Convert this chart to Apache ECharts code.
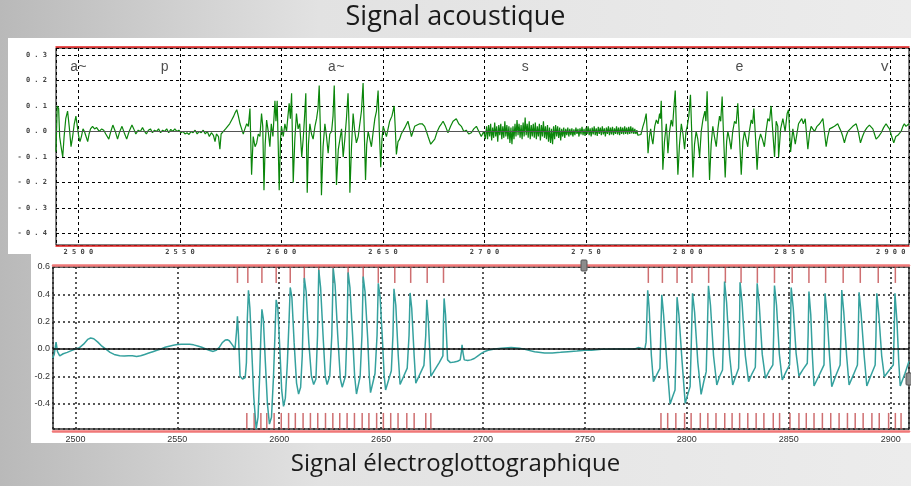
<!DOCTYPE html>
<html>
<head>
<meta charset="utf-8">
<script src="https://cdn.jsdelivr.net/npm/echarts@6/dist/echarts.min.js"></script>
<style>
html, body { margin: 0; padding: 0; }
#main { width: 911px; height: 486px; }
</style>
</head>
<body>
<div id="main"></div>
<script>
// signal acoustique : [ms, amplitude]
var acAvant = [
  [2489.0,-0.08],[2489.6,0.10],[2490.3,0.09],[2490.8,-0.02],[2491.5,-0.06],[2492.3,-0.10],[2493.0,-0.02],[2493.8,0.05],
  [2494.7,0.08],[2495.5,0.02],[2496.4,-0.06],[2497.2,-0.02],[2498.0,0.03],[2498.8,0.06],[2499.5,0.02],[2500.2,-0.02],
  [2500.8,-0.04],[2501.5,-0.02],[2502.3,0.01],[2503.0,0.00],[2503.8,-0.02],[2504.6,-0.04],[2505.3,-0.01],[2506.0,0.01],
  [2507.0,0.02],[2508.0,0.01],[2509.0,0.015],[2510.3,0.00],[2511.5,0.01],[2512.5,0.005],[2513.5,-0.01],[2515.0,-0.03],
  [2516.0,0.00],[2517.0,0.025],[2518.2,0.00],[2519.3,-0.03],[2520.4,0.00],[2521.5,0.02],[2522.6,-0.005],[2523.8,-0.03],
  [2525.0,0.00],[2526.4,0.025],[2527.3,0.01],[2528.3,-0.01],[2529.5,0.005],[2530.5,0.00],[2531.6,0.015],[2532.6,0.00],
  [2533.5,-0.01],[2534.5,0.005],[2535.5,0.01],[2536.5,-0.005],[2537.5,0.005],[2538.5,0.00],[2539.5,0.01],[2540.5,-0.005],
  [2541.5,0.005],[2542.5,0.00],[2543.5,0.01],[2544.5,-0.005],[2545.5,0.008],[2546.5,0.00],[2547.5,0.01],[2548.5,0.00],
  [2549.5,0.005],[2550.5,-0.005],[2551.5,0.00],[2552.5,-0.01],[2553.5,-0.005],[2554.5,-0.012],[2555.5,0.00],[2556.5,-0.005],
  [2557.5,0.005],[2558.5,-0.01],[2559.5,0.00],[2560.5,-0.005],[2561.5,0.005],[2562.5,-0.01],[2563.5,0.00],[2564.5,-0.02],
  [2565.5,-0.005],[2566.5,-0.015],[2567.3,-0.04],[2568.0,-0.01],[2569.0,-0.02],[2569.7,-0.07],[2570.3,-0.01],[2571.4,0.00],
  [2572.5,0.01],[2573.5,0.02],[2574.5,0.03],[2575.5,0.045],[2576.5,0.06],[2577.3,0.075],[2578.0,0.085],[2578.8,0.06],
  [2579.6,0.03],[2580.4,0.01],[2581.2,-0.01],[2582.0,0.01],[2582.9,0.03],[2583.7,0.02],[2584.5,0.09],[2585.3,-0.17],
  [2586.1,-0.02],[2587.0,-0.06],[2587.8,-0.045],[2588.6,-0.01],[2589.4,-0.02],[2590.2,0.07],[2590.8,0.02],[2591.4,-0.23],
  [2592.0,-0.05],[2592.7,0.045],[2593.5,0.00],[2594.3,-0.06],[2595.0,0.03],[2595.8,-0.02],[2596.8,0.12],[2597.3,0.04],
  [2597.9,0.12],[2598.4,-0.05],[2598.9,-0.23],[2599.5,-0.04],[2600.0,0.02],[2600.9,-0.02],[2601.7,0.03],[2602.5,0.00],
  [2603.2,0.06],[2603.8,0.11],[2604.4,0.05],[2605.0,0.15],[2605.8,-0.20],[2606.6,-0.03],[2607.4,0.07],[2608.2,0.01],
  [2609.0,0.03],[2610.0,-0.10],[2610.8,-0.02],[2611.4,0.06],[2612.0,0.15],[2612.7,-0.24],[2613.3,-0.05],[2614.0,0.03],
  [2614.8,-0.01],[2615.6,-0.03],[2616.5,0.02],[2617.3,0.05],[2618.0,0.09],[2618.6,0.18],[2619.2,0.00],[2619.7,-0.25],
  [2620.5,-0.06],[2621.4,0.03],[2622.2,-0.02],[2623.0,-0.085],[2623.8,-0.01],[2624.7,0.00],[2625.4,0.06],[2626.0,0.18],
  [2626.6,-0.02],[2627.1,-0.21],[2628.0,-0.07],[2628.8,-0.03],[2629.6,0.01],[2630.4,-0.10],[2631.2,-0.03],[2632.0,0.05],
  [2632.8,0.15],[2633.3,0.02],[2633.7,-0.24],[2634.5,-0.06],[2635.3,0.07],[2636.1,0.00],[2636.9,-0.045],[2637.8,-0.02],
  [2638.6,0.03],[2639.4,0.08],[2640.2,0.19],[2640.8,0.00],[2641.4,-0.19],[2642.0,-0.05],[2642.7,0.00],[2643.5,-0.03],
  [2644.3,-0.06],[2645.2,0.00],[2646.0,0.05],[2646.8,0.08],[2647.6,0.16],[2648.2,0.00],[2648.9,-0.14],[2649.5,-0.03],
  [2650.1,0.02],[2650.9,0.00],[2651.7,-0.02],[2652.5,0.01],[2653.3,0.04],[2654.4,0.06],[2655.5,0.10],[2656.0,0.02],
  [2656.6,-0.09],[2657.4,-0.04],[2658.2,-0.03],[2659.0,-0.01],[2659.9,-0.005],[2661.1,0.02],[2662.3,0.04],[2663.2,0.01],
  [2664.0,-0.02],[2664.8,0.00],[2665.6,0.02],[2666.8,0.025],[2668.1,0.03],[2669.3,0.03],[2670.5,0.02],[2671.4,0.00],
  [2672.2,-0.02],[2673.5,-0.05],[2674.5,-0.04],[2675.5,-0.03],[2676.7,0.00],[2677.9,0.02],[2678.8,0.03],[2679.6,0.04],
  [2680.8,0.02],[2682.0,-0.005],[2683.3,0.02],[2684.5,0.04],[2685.3,0.045],[2686.1,0.05],[2687.3,0.03],[2688.6,0.02],
  [2689.8,0.00],[2691.0,0.005],[2692.2,-0.01],[2693.5,-0.005],[2694.7,0.01],[2696.0,0.02],[2697.2,0.00],[2698.4,-0.02],
  [2699.6,0.00],[2700.4,-0.03]
];
// bruit du [s] : une valeur toutes les 0,5 ms a partir de 2701
var sDebut = 2701, sPas = 0.5;
var sBruit = [
  0.02,-0.03,0.025,-0.02,0.03,-0.035,0.015,-0.025,0.035,-0.02,
  0.02,-0.04,0.025,-0.015,0.03,-0.03,0.02,-0.025,0.04,-0.02,
  0.025,-0.03,0.02,-0.045,0.015,-0.05,0.02,-0.03,0.03,-0.02,
  0.045,-0.015,0.03,-0.025,0.025,-0.03,0.035,-0.02,0.055,-0.015,
  0.03,-0.025,0.04,-0.03,0.025,-0.02,0.03,-0.025,0.035,-0.03,
  0.02,-0.02,0.03,-0.035,0.025,-0.02,0.04,-0.025,0.02,-0.03,
  0.025,-0.04,0.015,-0.045,0.01,-0.05,0.02,-0.03,0.025,-0.02,
  0.02,-0.025,0.015,-0.035,0.01,-0.02,0.015,-0.025,0.01,-0.015,
  0.015,-0.02,0.01,-0.015,0.012,-0.02,0.008,-0.015,0.015,-0.01,
  0.01,-0.02,0.012,-0.012,0.018,-0.015,0.01,-0.018,0.015,-0.01,
  0.02,-0.015,0.012,-0.02,0.015,-0.012,0.02,-0.015,0.012,-0.018,
  0.018,-0.01,0.015,-0.015,0.02,-0.012,0.012,-0.02,0.015,-0.01,
  0.02,-0.015,0.015,-0.012,0.018,-0.015,0.012,-0.01,0.02,-0.012,
  0.015,-0.015,0.018,-0.01,0.015,-0.012,0.02,-0.01,0.015,-0.012,
  0.018,-0.01,0.02,-0.008,0.015,-0.01,0.01,-0.01,0.005,-0.015,
  -0.01
];
var acApres = [
  [2777.0,-0.012],[2778.0,0.02],[2778.8,0.04],[2779.6,0.07],[2780.1,0.00],[2780.5,-0.085],[2781.2,-0.02],[2781.8,0.01],
  [2782.4,-0.03],[2782.9,-0.05],[2783.8,0.02],[2784.6,0.045],[2785.4,0.03],[2786.2,0.07],[2786.6,0.05],[2787.0,0.12],
  [2787.4,0.00],[2787.8,-0.15],[2788.6,-0.04],[2789.5,0.03],[2789.9,-0.02],[2790.3,-0.085],[2791.1,0.00],[2791.9,0.045],
  [2792.6,0.02],[2793.2,0.09],[2793.9,0.16],[2794.5,0.00],[2795.2,-0.17],[2796.0,-0.05],[2796.9,0.03],[2797.7,-0.01],
  [2798.5,-0.07],[2799.2,0.00],[2799.8,0.02],[2800.6,0.06],[2801.4,0.144],[2802.0,0.00],[2802.6,-0.18],[2803.4,-0.05],
  [2804.2,0.00],[2805.0,-0.03],[2805.9,-0.10],[2806.7,0.00],[2807.5,0.045],[2808.5,0.08],[2809.0,0.04],[2809.6,0.157],
  [2810.2,-0.02],[2810.8,-0.19],[2811.6,-0.05],[2812.4,0.02],[2813.2,-0.02],[2814.1,-0.06],[2814.9,0.01],[2815.7,0.06],
  [2816.3,0.04],[2817.0,0.137],[2817.7,-0.02],[2818.5,-0.18],[2819.2,-0.04],[2819.8,0.00],[2820.6,-0.03],[2821.4,-0.07],
  [2822.2,0.00],[2823.1,0.04],[2823.9,0.03],[2824.7,0.11],[2825.5,-0.02],[2826.4,-0.17],[2827.2,-0.04],[2828.0,0.00],
  [2828.8,-0.03],[2829.6,-0.06],[2830.4,0.00],[2831.3,0.045],[2832.0,0.03],[2832.6,0.09],[2833.4,-0.02],[2834.2,-0.15],
  [2835.0,-0.04],[2835.9,-0.01],[2836.8,-0.03],[2837.8,-0.06],[2838.6,0.00],[2839.5,0.05],[2840.3,0.04],[2841.1,0.10],
  [2842.0,-0.01],[2842.8,-0.10],[2843.6,0.04],[2844.4,0.02],[2844.8,-0.10],[2845.8,0.01],[2846.9,0.05],[2848.0,0.00],
  [2849.0,0.07],[2849.7,0.085],[2850.7,-0.08],[2851.8,0.01],[2853.0,-0.05],[2854.6,0.03],[2856.2,0.05],[2857.0,0.03],
  [2857.9,0.05],[2859.2,-0.07],[2860.0,-0.01],[2860.8,0.02],[2861.6,0.01],[2862.5,0.00],[2863.7,0.02],[2865.0,0.03],
  [2865.8,0.04],[2866.6,0.05],[2868.2,-0.06],[2869.0,-0.02],[2869.9,0.01],[2871.1,0.015],[2872.3,0.02],[2873.1,0.025],
  [2873.9,0.03],[2874.7,0.015],[2875.6,0.00],[2876.4,-0.02],[2877.2,-0.045],[2878.0,-0.02],[2878.9,0.00],[2880.1,0.01],
  [2881.3,0.02],[2882.2,0.025],[2883.0,0.03],[2884.0,0.00],[2885.1,-0.045],[2886.1,-0.02],[2887.1,0.00],[2888.3,0.015],
  [2889.5,0.025],[2890.3,0.02],[2891.2,0.01],[2892.0,-0.01],[2892.8,-0.03],[2894.0,-0.02],[2895.3,-0.005],[2896.5,0.015],
  [2897.7,0.03],[2898.5,0.02],[2899.4,0.01],[2900.5,-0.02],[2901.5,-0.045],[2902.5,-0.02],[2903.5,-0.015],[2904.3,-0.01],
  [2905.1,0.00],[2906.0,0.02],[2906.7,0.03],[2907.5,0.02],[2908.4,0.025],[2909.0,0.03]
];

// segmentation phonetique
var phonemes = ['a~', 'p', 'a~', 's', 'e', 'v'];
var phonemeT = [2500, 2542.5, 2627, 2720, 2825.5, 2897];

// signal electroglottographique : [ms, valeur]
var egg = [
  [2488.8,-0.068],[2489.6,-0.04],[2490.5,0.05],[2491.2,-0.02],[2492.3,-0.05],[2494,-0.035],[2496,-0.025],[2498,-0.012],
  [2500,0.0],[2502,0.01],[2504,0.035],[2506,0.07],[2507.5,0.08],[2509,0.075],[2511,0.05],[2513,0.02],[2514.8,0.0],
  [2517,-0.025],[2519,-0.04],[2521.7,-0.05],[2524,-0.052],[2526,-0.05],[2528,-0.05],[2530,-0.055],[2532,-0.05],
  [2534,-0.04],[2536,-0.03],[2538,-0.02],[2540,-0.01],[2542,0.0],[2544,0.012],[2546,0.02],[2548,0.027],[2550,0.032],
  [2552,0.035],[2554,0.035],[2556,0.034],[2558,0.03],[2560,0.022],[2562,0.012],[2564,0.0],[2566,-0.012],[2567.6,-0.018],
  [2569,-0.01],[2570.5,0.01],[2572,0.045],[2573.5,0.065],[2574.5,0.068],[2575.5,0.06],[2577,0.03],[2578.3,0.0],
  [2579.0,0.12],[2579.5,0.24],[2580.0,0.1],[2580.8,-0.2],[2582.0,-0.22],[2583.3,-0.21],[2583.9,-0.1],[2584.3,0.2],
  [2584.9,0.43],[2585.6,0.3],[2586.5,0.0],[2587.5,-0.35],[2588.7,-0.586],[2589.6,-0.5],[2590.4,-0.2],[2591.0,0.1],
  [2591.5,0.29],[2592.2,0.22],[2593.2,-0.1],[2594.2,-0.4],[2595.2,-0.55],[2596.2,-0.5],[2597.2,-0.2],[2597.9,0.1],
  [2598.5,0.36],[2599.3,0.3],[2600.3,0.0],[2601.2,-0.3],[2602.1,-0.42],[2603.0,-0.36],[2604.0,-0.1],[2604.8,0.2],
  [2605.4,0.45],[2606.2,0.38],[2607.3,0.05],[2608.5,-0.25],[2609.5,-0.33],[2610.5,-0.28],[2611.3,-0.05],[2611.8,0.25],
  [2612.3,0.52],[2613.2,0.42],[2614.5,0.05],[2615.8,-0.2],[2616.9,-0.26],[2618.0,-0.22],[2618.8,0.1],[2619.4,0.58],
  [2620.3,0.45],[2621.5,0.1],[2622.6,-0.2],[2623.5,-0.26],[2624.8,-0.2],[2625.8,0.1],[2626.5,0.59],[2627.4,0.47],
  [2628.7,0.1],[2630.0,-0.22],[2630.9,-0.28],[2632.5,-0.2],[2633.2,0.1],[2633.8,0.56],[2634.7,0.45],[2636.0,0.1],
  [2637.0,-0.2],[2637.9,-0.33],[2639.7,-0.2],[2640.6,0.1],[2641.2,0.53],[2642.1,0.42],[2643.4,0.08],[2644.2,-0.2],
  [2644.8,-0.32],[2647.0,-0.18],[2648.0,0.1],[2648.6,0.48],[2649.5,0.38],[2650.7,0.05],[2651.5,-0.2],[2652.2,-0.30],
  [2655.0,-0.16],[2655.8,0.1],[2656.3,0.44],[2657.2,0.32],[2658.4,-0.05],[2659.3,-0.26],[2662.8,-0.14],[2663.7,0.1],
  [2664.2,0.41],[2665.0,0.3],[2666.2,-0.05],[2667.0,-0.25],[2671.0,-0.12],[2671.9,0.1],[2672.4,0.36],[2673.2,0.2],
  [2674.4,-0.2],[2676.0,-0.16],[2678.5,-0.1],[2680.3,-0.05],[2680.6,0.2],[2680.9,0.37],[2681.6,0.25],[2682.6,-0.08],
  [2684.0,-0.1],[2685.9,-0.095],[2687.5,-0.09],[2688.8,-0.08],[2689.4,-0.02],[2689.7,0.03],[2690.2,-0.03],[2690.8,-0.08],
  [2692.5,-0.085],[2694.0,-0.08],[2695.7,-0.07],[2697.5,-0.05],[2699.0,-0.035],[2700.6,-0.02],[2702.5,-0.01],[2705.6,0.0],
  [2709.0,0.005],[2713.8,0.01],[2718,0.005],[2721,-0.005],[2725.3,-0.02],[2730.2,-0.03],[2734,-0.03],[2738,-0.025],
  [2741.7,-0.02],[2746,-0.015],[2750,-0.01],[2753.2,-0.01],[2758.1,-0.003],[2765,0.0],[2774.5,0.0],[2776.1,0.01],
  [2777.5,0.005],[2779.4,0.0],
  [2780.0,0.05],[2780.8,0.43],[2781.5,0.3],[2782.6,-0.05],[2783.6,-0.24],[2785.2,-0.19],[2786.8,-0.142],[2787.2,0.1],
  [2787.7,0.396],[2788.6,0.25],[2790.2,-0.1],[2791.8,-0.403],[2793.0,-0.35],[2794.2,-0.30],[2794.7,0.0],[2795.2,0.379],
  [2796.1,0.25],[2797.7,-0.1],[2799.2,-0.398],[2800.5,-0.33],[2801.6,-0.276],[2802.2,0.05],[2802.8,0.408],[2803.8,0.27],
  [2805.4,-0.1],[2807.0,-0.332],[2808.3,-0.24],[2809.5,-0.166],[2810.0,0.1],[2810.6,0.462],[2811.6,0.32],[2813.1,-0.05],
  [2814.7,-0.264],[2816.1,-0.2],[2817.5,-0.154],[2818.0,0.1],[2818.5,0.493],[2819.5,0.34],[2821.0,-0.05],[2822.5,-0.264],
  [2824.0,-0.2],[2825.4,-0.142],[2825.8,0.1],[2826.1,0.488],[2827.1,0.34],[2828.7,-0.05],[2830.3,-0.239],[2832.0,-0.18],
  [2833.6,-0.134],[2834.0,0.1],[2834.5,0.481],[2835.5,0.33],[2837.0,-0.04],[2838.6,-0.215],[2840.4,-0.16],[2842.2,-0.117],
  [2842.6,0.1],[2843.0,0.464],[2844.0,0.32],[2845.4,-0.04],[2846.8,-0.227],[2848.6,-0.17],[2850.4,-0.117],[2850.8,0.1],
  [2851.2,0.449],[2852.2,0.3],[2853.6,-0.03],[2855.0,-0.198],[2857.0,-0.15],[2859.1,-0.105],[2859.5,0.1],[2859.9,0.42],
  [2860.8,0.25],[2861.6,-0.05],[2862.4,-0.271],[2865.0,-0.19],[2867.3,-0.117],[2867.5,0.1],[2867.8,0.408],[2868.8,0.25],
  [2870.0,-0.05],[2871.1,-0.276],[2873.2,-0.19],[2875.2,-0.117],[2875.6,0.1],[2876.0,0.432],[2877.0,0.27],[2878.4,-0.05],
  [2879.6,-0.264],[2881.7,-0.19],[2883.7,-0.117],[2884.1,0.1],[2884.5,0.415],[2885.5,0.26],[2887.0,-0.05],[2888.3,-0.271],
  [2890.4,-0.19],[2892.4,-0.117],[2892.8,0.1],[2893.2,0.408],[2894.2,0.25],[2895.6,-0.05],[2896.9,-0.203],[2899.1,-0.16],
  [2901.3,-0.117],[2901.7,0.1],[2902.1,0.408],[2903.1,0.2],[2904.0,-0.1],[2904.7,-0.271],[2907,-0.18],[2909,-0.09]
];

// marques d'instants glottiques (haut et bas du trace EGG)
var marquesHaut = [2579.5,2584.6,2591.5,2598.5,2605.4,2612.3,2619.4,2626.5,2633.8,2641.2,2648.6,2656.7,2664.5,2672.6,2680.6,
  2781.1,2788.0,2795.2,2802.5,2810.7,2818.9,2826.6,2834.6,2843.0,2851.7,2859.9,2868.1,2876.7,2885.1,2893.9,2902.3];
var marquesBas = [2584.1,2587.7,2591.0,2593.9,2597.5,2601.0,2604.6,2607.9,2611.7,2615.3,2618.9,2622.7,2626.3,2629.7,2633.3,
  2636.9,2640.7,2644.0,2647.8,2651.1,2654.7,2658.3,2662.6,2666.2,2671.9,2674.4,
  2787.3,2790.6,2794.6,2798.9,2802.1,2806.6,2810.3,2814.3,2818.6,2822.2,2825.9,2829.9,2834.0,2837.8,2842.4,2845.5,
  2850.6,2855.0,2858.6,2862.4,2866.5,2870.6,2874.7,2878.8,2882.6,2886.5,2890.8,2894.4,2899.0,2902.3,2905.1];

var acoustique = acAvant
  .concat(sBruit.map(function (v, i) { return [sDebut + i * sPas, v]; }))
  .concat(acApres);

var myChart = echarts.init(document.getElementById('main'));

function espace(v) {
  return v.toFixed(1).split('').join(' ');
}
function espaceEntier(v) {
  return String(Math.round(v)).split('').join(' ');
}

var petitTexte = {
  fontFamily: 'DejaVu Sans Mono', fontSize: 7, fontWeight: 'bold', color: '#444'
};
var texteEgg = {
  fontFamily: 'Liberation Sans', fontSize: 9, color: '#333'
};

var option = {
  animation: false,
  backgroundColor: new echarts.graphic.LinearGradient(0, 0, 1, 0, [
    { offset: 0, color: '#b9b9b9' },
    { offset: 0.35, color: '#e2e2e2' },
    { offset: 1, color: '#ececec' }
  ]),
  title: [
    {
      text: 'Signal acoustique', left: 'center', top: 4, padding: 0,
      textStyle: { fontFamily: 'Open Sans', fontSize: 27, fontWeight: 'normal', color: '#1a1a1a' }
    },
    {
      text: 'Signal électroglottographique', left: 'center', top: 452, padding: 0,
      textStyle: { fontFamily: 'Open Sans', fontSize: 24, fontWeight: 'normal', color: '#1a1a1a' }
    }
  ],
  graphic: [
    { type: 'rect', z: -100, shape: { x: 8, y: 38, width: 903, height: 216 }, style: { fill: '#fff' } },
    { type: 'rect', z: -100, shape: { x: 31, y: 254, width: 880, height: 189 }, style: { fill: '#fff' } },
    { type: 'rect', z: 100, shape: { x: 581, y: 260, width: 6, height: 11, r: 1 }, style: { fill: '#8c8c8c', stroke: '#555', lineWidth: 1 } },
    { type: 'rect', z: 100, shape: { x: 906, y: 373, width: 6, height: 12, r: 1 }, style: { fill: '#8c8c8c', stroke: '#555', lineWidth: 1 } }
  ],
  grid: [
    { left: 56, right: 2, top: 48, height: 197, show: true, borderColor: '#000', borderWidth: 1, backgroundColor: 'transparent' },
    { left: 53, right: 2, top: 267, height: 162, show: true, borderColor: '#333', borderWidth: 1.5, backgroundColor: 'transparent' }
  ],
  xAxis: [
    {
      type: 'value', gridIndex: 0, min: 2489, max: 2909, splitNumber: 8, position: 'bottom', offset: 1,
      axisLine: { show: true, onZero: false, lineStyle: { color: '#e41a1a', width: 1.5 } },
      axisTick: { show: false },
      axisLabel: Object.assign({ margin: 3, showMinLabel: false, showMaxLabel: false, formatter: espaceEntier }, petitTexte),
      splitLine: { show: true, lineStyle: { color: '#000', type: [3, 3], width: 1 } }
    },
    {
      type: 'value', gridIndex: 0, min: 2489, max: 2909, position: 'top', offset: 1,
      axisLine: { show: true, onZero: false, lineStyle: { color: '#e41a1a', width: 1.5 } },
      axisTick: { show: false }, axisLabel: { show: false }, splitLine: { show: false }
    },
    {
      type: 'value', gridIndex: 1, min: 2489, max: 2909, splitNumber: 8, position: 'bottom', offset: 2,
      axisLine: { show: true, onZero: false, lineStyle: { color: '#f07878', width: 2.5 } },
      axisTick: { show: false },
      axisLabel: Object.assign({ margin: 4, showMinLabel: false, showMaxLabel: false,
        formatter: function (v) { return String(Math.round(v)); } }, texteEgg),
      splitLine: { show: true, lineStyle: { color: '#222', type: [2, 3], width: 1.5 } }
    },
    {
      type: 'value', gridIndex: 1, min: 2489, max: 2909, position: 'top', offset: 2,
      axisLine: { show: true, onZero: false, lineStyle: { color: '#f07878', width: 2.5 } },
      axisTick: { show: false }, axisLabel: { show: false }, splitLine: { show: false }
    }
  ],
  yAxis: [
    {
      type: 'value', gridIndex: 0, min: -0.445, max: 0.327, splitNumber: 8,
      axisLine: { show: false, onZero: false }, axisTick: { show: false },
      axisLabel: Object.assign({ margin: 9, showMinLabel: false, showMaxLabel: false, formatter: espace }, petitTexte),
      splitLine: { show: true, lineStyle: { color: '#000', type: [3, 3], width: 1 } }
    },
    {
      type: 'value', gridIndex: 1, min: -0.586, max: 0.6, splitNumber: 6,
      axisLine: { show: false, onZero: false }, axisTick: { show: false },
      axisLabel: Object.assign({ margin: 3, showMinLabel: false, showMaxLabel: true,
        formatter: function (v) { return v.toFixed(1); } }, texteEgg),
      splitLine: { show: true, lineStyle: { color: '#222', type: [2, 3], width: 1.5 } }
    }
  ],
  series: [
    {
      type: 'line', xAxisIndex: 0, yAxisIndex: 0, data: acoustique,
      showSymbol: false, symbol: 'none', sampling: null,
      lineStyle: { color: '#0b860b', width: 1.2 },
      markLine: {
        silent: true, symbol: 'none', label: { show: false },
        lineStyle: { color: '#555', type: 'solid', width: 1.2 },
        data: [{ yAxis: 0 }]
      },
      z: 3
    },
    {
      type: 'scatter', xAxisIndex: 0, yAxisIndex: 0, symbolSize: 0, silent: true,
      data: phonemes.map(function (p, i) { return { name: p, value: [phonemeT[i], 0.253] }; }),
      label: {
        show: true, position: 'inside', formatter: '{b}',
        fontFamily: 'Liberation Mono', fontSize: 14, color: '#222'
      }
    },
    {
      type: 'line', xAxisIndex: 2, yAxisIndex: 1, data: egg,
      showSymbol: false, symbol: 'none',
      lineStyle: { color: '#35a19e', width: 1.5 },
      markLine: {
        silent: true, symbol: 'none', label: { show: false },
        lineStyle: { color: '#111', type: 'solid', width: 1.5 },
        data: [{ yAxis: 0 }]
      },
      z: 3
    },
    {
      type: 'scatter', xAxisIndex: 2, yAxisIndex: 1, symbol: 'rect', symbolSize: [1.5, 16], silent: true,
      itemStyle: { color: '#c24a4c' },
      data: marquesHaut.map(function (t) { return [t, 0.542]; })
    },
    {
      type: 'scatter', xAxisIndex: 2, yAxisIndex: 1, symbol: 'rect', symbolSize: [1.5, 16], silent: true,
      itemStyle: { color: '#c24a4c' },
      data: marquesBas.map(function (t) { return [t, -0.527]; })
    }
  ]
};

myChart.setOption(option);
</script>
</body>
</html>
